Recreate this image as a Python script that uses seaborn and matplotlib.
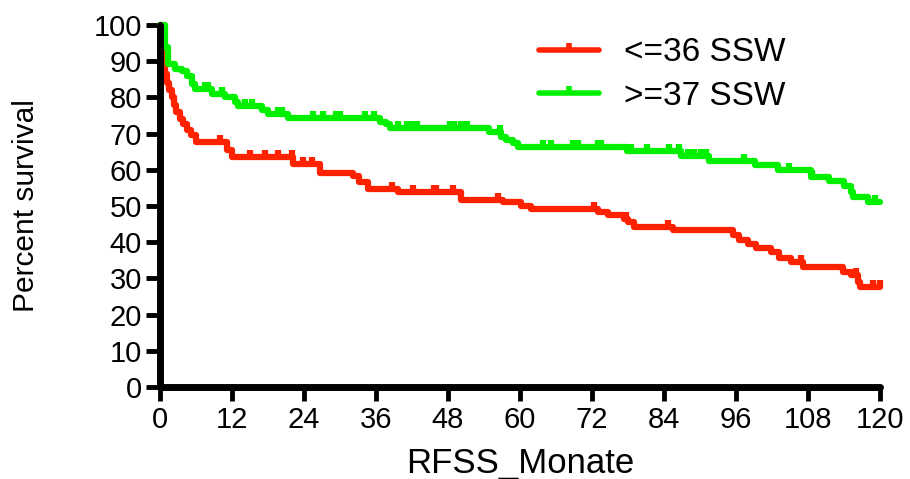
import matplotlib
matplotlib.use('Agg')
import matplotlib.pyplot as plt
from matplotlib.lines import Line2D
import numpy as np
import pandas as pd
import seaborn as sns

# Kaplan-Meier steps: (month, survival after step)
red_t = [0, 0.2, 0.4, 0.6, 0.9, 1.2, 1.5, 2.0, 2.4, 2.7, 3.3, 3.8, 4.5, 5.2, 6.0,
         11.2, 12.0, 22.2, 26.7, 32.2, 33.1, 34.7, 39.6, 50.1, 57.1, 60.1, 61.8,
         73.0, 74.6, 77.3, 78.0, 79.0, 85.5, 95.5, 96.5, 98.0, 99.3, 101.8, 103.2,
         105.2, 107.2, 113.9, 115.2, 116.4, 116.7, 120]
red_s = [100, 95, 92, 89, 86.5, 84, 82, 80, 78, 76, 74, 72.5, 71, 69.5, 67.6,
         65.5, 63.5, 61.6, 59.1, 58.4, 56.6, 54.7, 53.8, 51.7, 51.0, 50.1, 49.2,
         48.3, 47.4, 46.5, 45.5, 44.3, 43.4, 41.9, 40.7, 39.4, 38.5, 37.3, 35.7,
         34.5, 33.1, 31.7, 30.8, 29.0, 27.6, 27.6]
red_cens = [10.0, 15.0, 17.5, 19.7, 22.0, 23.9, 25.4, 38.6, 42.2, 45.6, 46.0, 48.9,
            56.3, 72.3, 77.6, 84.6, 106.8, 116.0, 118.9, 120]

green_t = [0, 0.8, 1.3, 2.5, 3.6, 4.5, 5.3, 5.8, 8.6, 10.9, 12.5, 13.0, 17.0, 18.0,
           21.4, 36.7, 37.6, 38.4, 54.8, 56.8, 57.6, 58.8, 59.6, 77.8, 86.8, 91.5,
           99.2, 103.0, 108.5, 111.5, 114.0, 115.2, 115.5, 118.0, 120]
green_s = [100, 93.8, 89.2, 87.9, 87.4, 86.0, 83.7, 82.3, 81.0, 80.0, 78.6, 77.5,
           76.4, 75.4, 74.3, 73.1, 72.5, 71.5, 70.4, 69.0, 68.1, 67.3, 66.4, 65.3,
           63.7, 62.3, 61.2, 59.8, 58.1, 56.8, 55.4, 53.8, 52.4, 51.2, 51.2]
green_cens = [7.5, 8.0, 10.3, 14.2, 15.3, 19.7, 20.3, 25.5, 27.2, 29.4, 30.0, 34.1,
              35.6, 39.6, 41.2, 42.2, 42.9, 48.4, 49.0, 50.1, 51.2, 56.6, 63.9, 65.1,
              68.9, 69.6, 73.0, 73.5, 78.5, 81.1, 84.8, 86.5, 88.0, 89.0, 90.2, 91.0,
              97.3, 104.8, 108.6, 119.2]

groups = ['<=36 SSW', '>=37 SSW']
colors = ['#ff2200', '#00f000']

steps = pd.concat([
    pd.DataFrame({'month': red_t, 'surv': red_s, 'group': groups[0]}),
    pd.DataFrame({'month': green_t, 'surv': green_s, 'group': groups[1]}),
])


def surv_at(t, times, surv):
    idx = np.searchsorted(times, t, side='right') - 1
    return np.asarray(surv)[idx]


cens = pd.concat([
    pd.DataFrame({'month': red_cens, 'surv': surv_at(red_cens, red_t, red_s), 'group': groups[0]}),
    pd.DataFrame({'month': green_cens, 'surv': surv_at(green_cens, green_t, green_s), 'group': groups[1]}),
])

sns.set_theme(style='white', rc={'text.color': 'black', 'axes.labelcolor': 'black',
                                 'xtick.color': 'black', 'ytick.color': 'black'})
plt.rcParams['font.family'] = ['Liberation Sans', 'DejaVu Sans']

fig = plt.figure(figsize=(9.1, 4.79), dpi=100)
ax = fig.add_axes([0.1758, 0.192, 0.7912, 0.756])

pal = dict(zip(groups, colors))
sns.lineplot(data=steps, x='month', y='surv', hue='group', palette=pal,
             drawstyle='steps-post', linewidth=4.5, estimator=None, sort=False,
             legend=False, ax=ax, clip_on=False)
for g in groups:
    sub = cens[cens['group'] == g]
    ax.plot(sub['month'], sub['surv'], linestyle='none', marker=2, markersize=5,
            markeredgewidth=4.5, color=pal[g], clip_on=False)

# legend handles: line with a censor tick in the middle
handles = []
for c in colors:
    h = Line2D([0, 0.5, 1], [0, 0, 0], color=c, lw=4, marker=2, markersize=5,
               markeredgewidth=4, markevery=[1], solid_capstyle='round')
    handles.append(h)
leg = ax.legend(handles, groups, loc='upper left', bbox_to_anchor=(0.527, 0.966),
                frameon=False, fontsize=24, handlelength=1.8, handletextpad=0.75,
                labelspacing=0.38, borderpad=0, borderaxespad=0)
for t in leg.get_texts():
    t.set_color('black')

ax.set_xlim(0, 120)
ax.set_ylim(0, 100)
ax.set_xticks(np.arange(0, 121, 12))
ax.set_yticks(np.arange(0, 101, 10))
for s in ['top', 'right']:
    ax.spines[s].set_visible(False)
for s in ['left', 'bottom']:
    ax.spines[s].set_linewidth(5)
    ax.spines[s].set_color('black')
    ax.spines[s].set_capstyle('round')
ax.tick_params(axis='both', direction='out', length=10, width=3.5, color='black',
               labelcolor='black', labelsize=21, left=True, bottom=True)
ax.tick_params(axis='y', pad=3)
ax.tick_params(axis='x', pad=4)
ax.set_xlabel('RFSS_Monate', fontsize=25, va='top', color='black')
ax.set_ylabel('Percent survival', fontsize=21.5, va='bottom', color='black')
ax.xaxis.set_label_coords(0.5, -0.165)
ax.yaxis.set_label_coords(-0.166, 0.5)

fig.savefig('out.png', dpi=100)
